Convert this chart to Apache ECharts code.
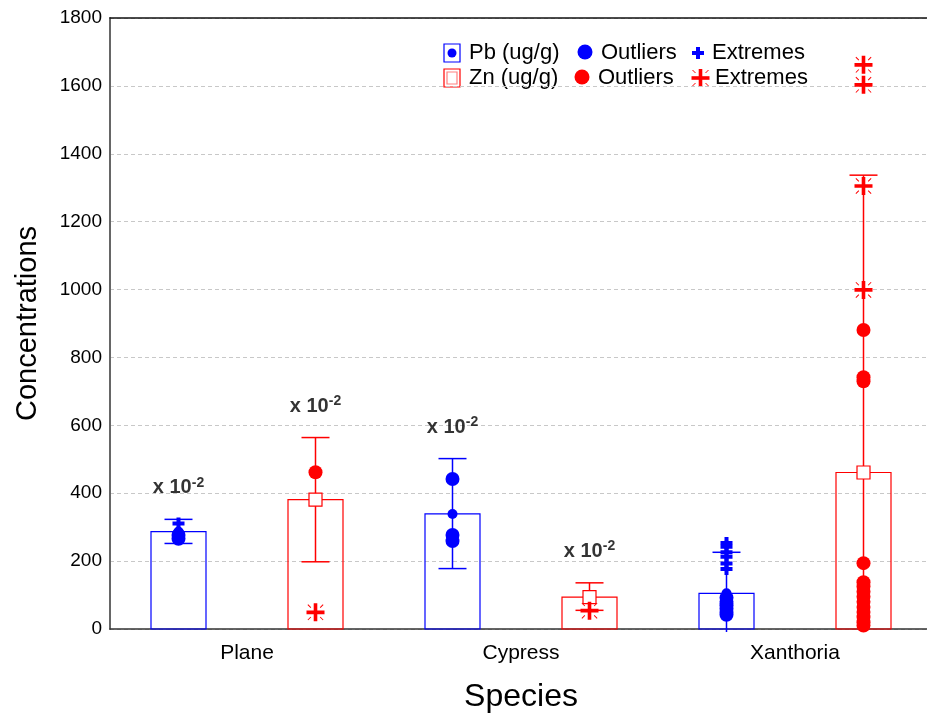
<!DOCTYPE html>
<html>
<head>
<meta charset="utf-8">
<script src="https://cdn.jsdelivr.net/npm/echarts@6/dist/echarts.min.js"></script>
<style>html,body{margin:0;padding:0;background:#fff}#c{width:927px;height:715px}</style>
</head>
<body>
<div id="c"></div>
<script>
// ---- data ----
const categories = ['Plane', 'Cypress', 'Xanthoria'];
const yTicks = [0, 200, 400, 600, 800, 1000, 1200, 1400, 1600, 1800];

const pbMean = [287, 339, 105];
const pbLow  = [252, 178, 0];
const pbHigh = [323, 502, 226];
const znMean = [381, 94, 461];
const znLow  = [198, 55, 0];
const znHigh = [564, 136, 1337];

const pbOutliers = [[277, 266], [442, 277, 259], [92, 80, 70, 60, 50, 42]];
const pbExtremes = [[311], [], [253, 242, 226, 213, 193, 177]];
const znOutliers = [[462], [], [881, 742, 730, 194, 138, 125, 110, 95, 80, 65, 50, 35, 20, 10]];
const znExtremes = [[49], [54], [1662, 1603, 1305, 999]];

const pbScaled = [true, true, false];  // "x 10^-2" note
const znScaled = [true, true, false];

// ---- helpers ----
const BLUE = '#0000ff', RED = '#ff0000';
const PB_OFF = 0.25, ZN_OFF = 0.75;
const plusPath = 'path://M4,0H8V4H12V8H8V12H4V8H0V4H4Z';
const starPath = 'path://M7.2,0H10.8V7.2H18V10.8H10.8V18H7.2V10.8H0V7.2H7.2Z' +
  'M1,1.7L1.7,1L4.7,4L4,4.7Z M17,1.7L16.3,1L13.3,4L14,4.7Z' +
  'M1,16.3L1.7,17L4.7,14L4,13.3Z M17,16.3L16.3,17L13.3,14L14,13.3Z';

function pts(arr, off) {
  const out = [];
  arr.forEach((vals, i) => vals.forEach(v => out.push([i + off, v])));
  return out;
}
function boxData(mean, low, high, off) {
  return mean.map((m, i) => [i + off, m, low[i], high[i]]);
}
function boxRender(color, isZn) {
  return function (params, api) {
    const x = api.value(0), m = api.value(1), lo = api.value(2), hi = api.value(3);
    const pm = api.coord([x, m]), p0 = api.coord([x, 0]);
    const pl = api.coord([x, lo]), ph = api.coord([x, hi]);
    const hw = 27.5, cw = 14;
    const ch = [
      {type: 'rect', shape: {x: pm[0] - hw, y: pm[1], width: 2 * hw, height: p0[1] - pm[1]},
       style: {fill: 'none', stroke: color, lineWidth: 1.2}},
      {type: 'line', shape: {x1: pl[0], y1: pl[1] + (lo <= 0 ? 3 : 0), x2: ph[0], y2: ph[1]},
       style: {stroke: color, lineWidth: 1.5}},
      {type: 'line', shape: {x1: ph[0] - cw, y1: ph[1], x2: ph[0] + cw, y2: ph[1]},
       style: {stroke: color, lineWidth: 1.5}}
    ];
    if (lo > 0) ch.push({type: 'line', shape: {x1: pl[0] - cw, y1: pl[1], x2: pl[0] + cw, y2: pl[1]},
       style: {stroke: color, lineWidth: 1.5}});
    if (isZn) ch.push({type: 'rect', shape: {x: pm[0] - 6.5, y: pm[1] - 6.5, width: 13, height: 13},
       style: {fill: '#fff', stroke: color, lineWidth: 1.2}});
    else ch.push({type: 'circle', shape: {cx: pm[0], cy: pm[1], r: 5}, style: {fill: color}});
    return {type: 'group', children: ch};
  };
}
const noteData = [];
pbScaled.forEach((s, i) => { if (s) noteData.push([i + PB_OFF, pbHigh[i]]); });
znScaled.forEach((s, i) => { if (s) noteData.push([i + ZN_OFF, znHigh[i]]); });

const FONT = 'Liberation Sans, Arial, Helvetica, sans-serif';

// legend drawn as graphic
function plusEls(cx, cy, size, thick, color) {
  return [
    {type: 'rect', shape: {x: cx - size / 2, y: cy - thick / 2, width: size, height: thick}, style: {fill: color}},
    {type: 'rect', shape: {x: cx - thick / 2, y: cy - size / 2, width: thick, height: size}, style: {fill: color}}
  ];
}
function legendRow(y, color, label, isZn) {
  let els = [];
  els.push({type: 'rect', shape: {x: 444, y: y - 9, width: 16, height: 18},
    style: {fill: '#fff', stroke: color, lineWidth: 1.2}});
  if (isZn) els.push({type: 'rect', shape: {x: 447, y: y - 6, width: 10, height: 12},
    style: {fill: '#fff', stroke: '#ff8080', lineWidth: 1.2}});
  else els.push({type: 'circle', shape: {cx: 452, cy: y, r: 4.5}, style: {fill: color}});
  els.push({type: 'text', x: 469, y: y, style: {text: label, fontSize: 22, fontFamily: FONT,
    fill: '#000', verticalAlign: 'middle'}});
  const dx = isZn ? 582 : 585;
  els.push({type: 'circle', shape: {cx: dx, cy: y - 1, r: 7.5}, style: {fill: color}});
  els.push({type: 'text', x: dx + 16, y: y, style: {text: 'Outliers', fontSize: 22, fontFamily: FONT,
    fill: '#000', verticalAlign: 'middle'}});
  const ex = isZn ? 700.5 : 698;
  if (isZn) {
    els = els.concat(plusEls(ex, y, 18, 3.6, color));
    [[-1, -1], [1, -1], [-1, 1], [1, 1]].forEach(([sx, sy]) => {
      els.push({type: 'line', shape: {x1: ex + sx * 8, y1: y + sy * 8, x2: ex + sx * 5, y2: y + sy * 5},
        style: {stroke: color, lineWidth: 1}});
    });
  } else {
    els = els.concat(plusEls(ex, y, 12, 4, color));
  }
  els.push({type: 'text', x: isZn ? 715 : 712, y: y, style: {text: 'Extremes', fontSize: 22, fontFamily: FONT,
    fill: '#000', verticalAlign: 'middle'}});
  return els;
}

const chart = echarts.init(document.getElementById('c'), null, {renderer: 'canvas'});
chart.setOption({
  animation: false,
  backgroundColor: '#fff',
  textStyle: {fontFamily: FONT},
  grid: {left: 110, right: -5, top: 18, bottom: 86, containLabel: false, outerBoundsMode: 'none'},
  xAxis: [
    {type: 'category', data: categories, position: 'bottom', boundaryGap: true,
     axisLine: {lineStyle: {color: '#333', width: 1.5}}, axisTick: {show: false},
     axisLabel: {fontSize: 21, color: '#000', margin: 14, fontFamily: FONT},
     name: 'Species', nameLocation: 'middle', nameGap: 52,
     nameTextStyle: {fontSize: 32, color: '#000', fontFamily: FONT}},
    {type: 'value', min: 0, max: 3, show: false},
    {type: 'category', data: categories, position: 'top',
     axisLine: {lineStyle: {color: '#111', width: 1.5}},
     axisTick: {inside: true, alignWithLabel: true, length: 3, lineStyle: {color: '#111'}},
     axisLabel: {show: false}}
  ],
  yAxis: {
    type: 'value', min: yTicks[0], max: yTicks[yTicks.length - 1], interval: 200,
    axisLine: {show: true, lineStyle: {color: '#666', width: 2}}, axisTick: {show: false},
    axisLabel: {fontSize: 19, color: '#000', margin: 8, fontFamily: FONT, formatter: v => String(v)},
    splitLine: {show: true, lineStyle: {color: '#c8c8c8', type: [4, 3], width: 1}},
    name: 'Concentrations', nameLocation: 'middle', nameGap: 68, nameRotate: 90,
    nameTextStyle: {fontSize: 29, color: '#000', fontFamily: FONT}
  },
  graphic: legendRow(53, BLUE, 'Pb (ug/g)', false).concat(legendRow(78, RED, 'Zn (ug/g)', true)),
  series: [
    {type: 'custom', name: 'Pb (ug/g)', xAxisIndex: 1, z: 2, renderItem: boxRender(BLUE, false),
     data: boxData(pbMean, pbLow, pbHigh, PB_OFF), encode: {x: 0, y: 1}},
    {type: 'custom', name: 'Zn (ug/g)', xAxisIndex: 1, z: 2, renderItem: boxRender(RED, true),
     data: boxData(znMean, znLow, znHigh, ZN_OFF), encode: {x: 0, y: 1}},
    {type: 'scatter', name: 'Pb Outliers', xAxisIndex: 1, z: 3, symbol: 'circle', symbolSize: 14,
     itemStyle: {color: BLUE, opacity: 1}, data: pts(pbOutliers, PB_OFF)},
    {type: 'scatter', name: 'Zn Outliers', xAxisIndex: 1, z: 3, symbol: 'circle', symbolSize: 14,
     itemStyle: {color: RED, opacity: 1}, data: pts(znOutliers, ZN_OFF)},
    {type: 'scatter', name: 'Pb Extremes', xAxisIndex: 1, z: 4, symbol: plusPath, symbolSize: 12,
     itemStyle: {color: BLUE, opacity: 1}, data: pts(pbExtremes, PB_OFF)},
    {type: 'scatter', name: 'Zn Extremes', xAxisIndex: 1, z: 4, symbol: starPath, symbolSize: 18,
     itemStyle: {color: RED, opacity: 1}, data: pts(znExtremes, ZN_OFF)},
    {type: 'scatter', name: 'note', xAxisIndex: 1, z: 5, symbol: 'circle', symbolSize: 1,
     itemStyle: {color: 'rgba(0,0,0,0)'}, silent: true, data: noteData,
     label: {show: true, position: 'top', distance: 19,
       formatter: '{a|x 10}{b|-2}',
       rich: {a: {fontSize: 20, fontWeight: 'bold', color: '#000', fontFamily: FONT},
              b: {fontSize: 14, fontWeight: 'bold', color: '#000', fontFamily: FONT, padding: [0, 0, 10, 0]}}}}
  ]
});
</script>
</body>
</html>
